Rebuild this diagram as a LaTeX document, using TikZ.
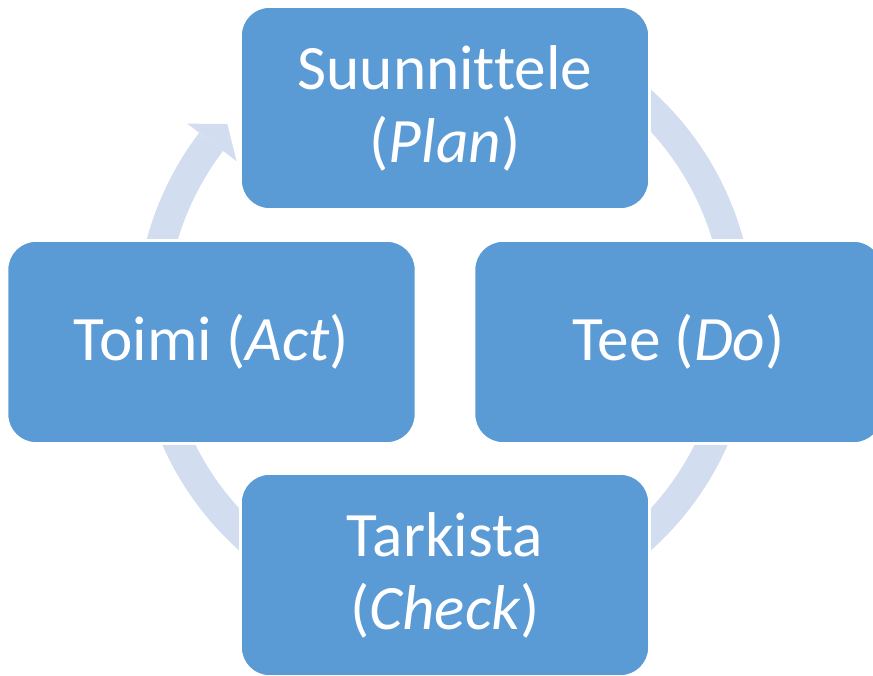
\documentclass[tikz,border=0pt]{standalone}
\usepackage{fontspec}
\setmainfont{Carlito}[Ligatures=NoCommon]
\usepackage{tikz}

\definecolor{boxblue}{HTML}{5B9BD5}
\definecolor{ringblue}{HTML}{D2DEEF}

\tikzset{
    stage/.style={draw=white, line width=1.5pt, fill=boxblue, rounded corners=0.58cm,
        minimum width=8.18cm, minimum height=4.06cm, text=white, align=center,
        font=\fontsize{36}{41.5}\selectfont},
    ring/.style={draw=ringblue, line width=0.6cm}
}

\begin{document}
\begin{tikzpicture}
    \useasboundingbox (0,0) rectangle (17.46,13.5);

    % ring behind the boxes
    \coordinate (ctr) at (8.9,7.1);
    \begin{scope}[shift={(ctr)}]
        \draw[ring] (85:5.88) arc[start angle=85, end angle=5, radius=5.88];
        \draw[ring] (-5:5.88) arc[start angle=-5, end angle=-85, radius=5.88];
        \draw[ring] (-95:5.88) arc[start angle=-95, end angle=-175, radius=5.88];
        \draw[ring] (185:5.88) arc[start angle=185, end angle=142.7, radius=5.88];
        \coordinate (tip) at (138:5.86);
        \fill[ringblue] (142.7:6.48) -- (tip) -- (142.7:5.24) -- cycle;
    \end{scope}

    \node[stage] (plan)  at (8.9,11.34) {Suunnittele\\(\textit{Plan})};
    \node[stage] (act)   at (4.23,6.66) {Toimi (\textit{Act})};
    \node[stage] (do)    at (13.57,6.66) {Tee (\textit{Do})};
    \node[stage] (check) at (8.9,2.0) {Tarkista\\(\textit{Check})};
\end{tikzpicture}
\end{document}
